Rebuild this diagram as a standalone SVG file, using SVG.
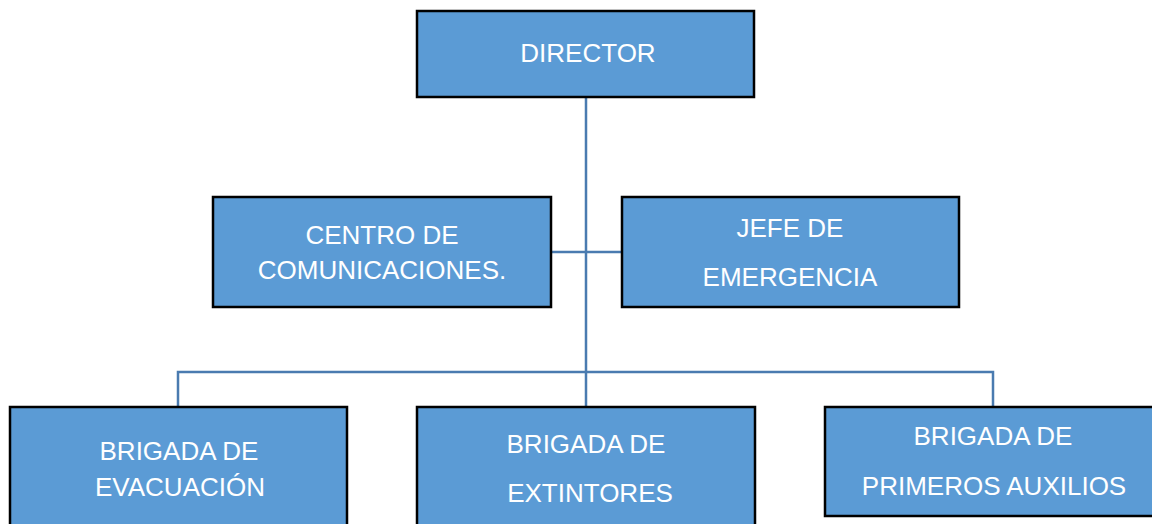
<svg xmlns="http://www.w3.org/2000/svg" width="1152" height="524" viewBox="0 0 1152 524">
<style>
.box{fill:#5b9bd5;stroke:#000;stroke-width:2.5}
.lbl{font-family:"Liberation Sans",Arial,sans-serif;font-size:26px;fill:#fff;text-anchor:middle}
.con{fill:none;stroke:#4a7bb0;stroke-width:2.5}
</style>
<rect width="1152" height="524" fill="#fff"/>
<g id="connectors">
<path class="con" d="M586 97 V407"/>
<path class="con" d="M551 252 H622"/>
<path class="con" d="M178 407 V372 H993 V407"/>
</g>
<g id="director">
<rect class="box" x="417" y="11" width="337" height="86"/>
<text class="lbl" x="588" y="62">DIRECTOR</text>
</g>
<g id="centro">
<rect class="box" x="213" y="197" width="338" height="110"/>
<text class="lbl" x="382" y="244">CENTRO DE</text>
<text class="lbl" x="382" y="279">COMUNICACIONES.</text>
</g>
<g id="jefe">
<rect class="box" x="622" y="197" width="337" height="110"/>
<text class="lbl" x="790" y="237">JEFE DE</text>
<text class="lbl" x="790" y="286">EMERGENCIA</text>
</g>
<g id="evacuacion">
<rect class="box" x="10" y="407" width="337" height="130"/>
<text class="lbl" x="179" y="460">BRIGADA DE</text>
<text class="lbl" x="180" y="496">EVACUACIÓN</text>
</g>
<g id="extintores">
<rect class="box" x="417" y="407" width="338" height="130"/>
<text class="lbl" x="586" y="453">BRIGADA DE</text>
<text class="lbl" x="590" y="502">EXTINTORES</text>
</g>
<g id="primeros">
<rect class="box" x="825" y="407" width="340" height="109"/>
<text class="lbl" x="993" y="445">BRIGADA DE</text>
<text class="lbl" x="994" y="495">PRIMEROS AUXILIOS</text>
</g>
</svg>
